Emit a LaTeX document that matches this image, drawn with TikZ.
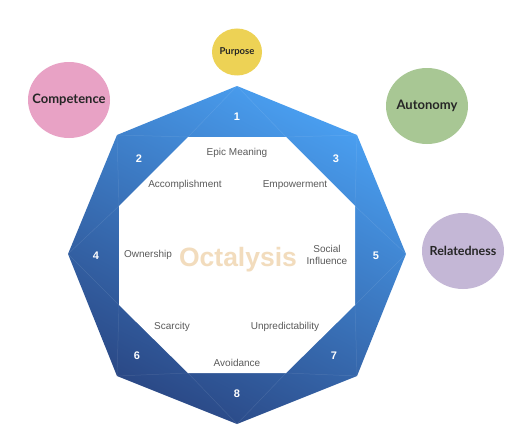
\documentclass[tikz,border=0pt]{standalone}
\usepackage{fontspec}
\setmainfont{Liberation Sans}
\newfontfamily\circfont{Lato}
\usetikzlibrary{shapes.geometric}
\definecolor{bandlight}{HTML}{4AA0F2}
\definecolor{banddark}{HTML}{2A4784}
\definecolor{purposecol}{HTML}{EDD255}
\definecolor{competencecol}{HTML}{E8A2C5}
\definecolor{autonomycol}{HTML}{A8C794}
\definecolor{relatedcol}{HTML}{C4B7D6}
\definecolor{labelgray}{HTML}{5A5A5A}
\definecolor{octacol}{HTML}{F2DCBD}
\begin{document}
\begin{tikzpicture}[x=1pt,y=-1pt,
  bubble/.style={ellipse, inner sep=0pt, draw=none},
  bubbletext/.style={font=\circfont\bfseries\fontsize{#1}{15}\selectfont, text=black!85},
  corelabel/.style={font=\fontsize{10}{11.5}\selectfont, text=labelgray, align=center},
  numlabel/.style={font=\fontsize{11}{12}\selectfont\bfseries, text=white},
  divider/.style={draw=white, opacity=0.1, line width=0.5pt}]
\useasboundingbox (0,0) rectangle (524,428);
\fill[white] (0,0) rectangle (524,428);
% outer and inner vertices
\coordinate (o1) at (237,86);
\coordinate (o3) at (357,135);
\coordinate (o5) at (406,254);
\coordinate (o7) at (357,376);
\coordinate (o8) at (237,424);
\coordinate (o6) at (117,376);
\coordinate (o4) at (68,254);
\coordinate (o2) at (117,135);
\coordinate (i1) at (188,137);
\coordinate (i2) at (286,137);
\coordinate (i3) at (355,206);
\coordinate (i4) at (355,305);
\coordinate (i5) at (286,373);
\coordinate (i6) at (188,373);
\coordinate (i7) at (119,305);
\coordinate (i8) at (119,206);
\shade[top color=bandlight, bottom color=banddark, shading angle=-28]
  (o1) -- (o3) -- (o5) -- (o7) -- (o8) -- (o6) -- (o4) -- (o2) -- cycle;
\fill[white] (i1) -- (i2) -- (i3) -- (i4) -- (i5) -- (i6) -- (i7) -- (i8) -- cycle;
% faint dividers
\draw[divider] (o2) -- (i1) -- (o1) -- (i2) -- (o3) -- (i3) -- (o5) -- (i4) -- (o7) -- (i5) -- (o8) -- (i6) -- (o6) -- (i7) -- (o4) -- (i8) -- (o2);
% numbers
\node[numlabel] (n1) at (237,117) {1};
\node[numlabel] (n2) at (139,159) {2};
\node[numlabel] (n3) at (336,159) {3};
\node[numlabel] (n4) at (96,256) {4};
\node[numlabel] (n5) at (376,256) {5};
\node[numlabel] (n6) at (137,356) {6};
\node[numlabel] (n7) at (334,356) {7};
\node[numlabel] (n8) at (237,394) {8};
% core drive labels
\node[corelabel] (epic) at (237,153) {Epic Meaning};
\node[corelabel] (accom) at (185,185) {Accomplishment};
\node[corelabel] (empow) at (295,185) {Empowerment};
\node[corelabel] (owner) at (148,255) {Ownership};
\node[corelabel] (social) at (327,255) {Social\\Influence};
\node[corelabel] (scarc) at (172,327) {Scarcity};
\node[corelabel] (unpred) at (285,327) {Unpredictability};
\node[corelabel] (avoid) at (237,363) {Avoidance};
\node[font=\fontsize{26.5}{28}\selectfont\bfseries, text=octacol] (octa) at (238,260) {Octalysis};
% bubbles
\node[bubble, fill=purposecol, minimum width=50pt, minimum height=47pt] (purpose) at (237,52) {};
\node[bubbletext=9.5] (purposetext) at (purpose.center) {Purpose};
\node[bubble, fill=competencecol, minimum width=82pt, minimum height=76pt] (competence) at (69,100) {};
\node[bubbletext=13] (competencetext) at (competence.center) {Competence};
\node[bubble, fill=autonomycol, minimum width=82pt, minimum height=76pt] (autonomy) at (427,106) {};
\node[bubbletext=13] (autonomytext) at (autonomy.center) {Autonomy};
\node[bubble, fill=relatedcol, minimum width=82pt, minimum height=76pt] (related) at (463,251) {};
\node[bubbletext=12.5] (relatedtext) at (related.center) {Relatedness};
\end{tikzpicture}
\end{document}
